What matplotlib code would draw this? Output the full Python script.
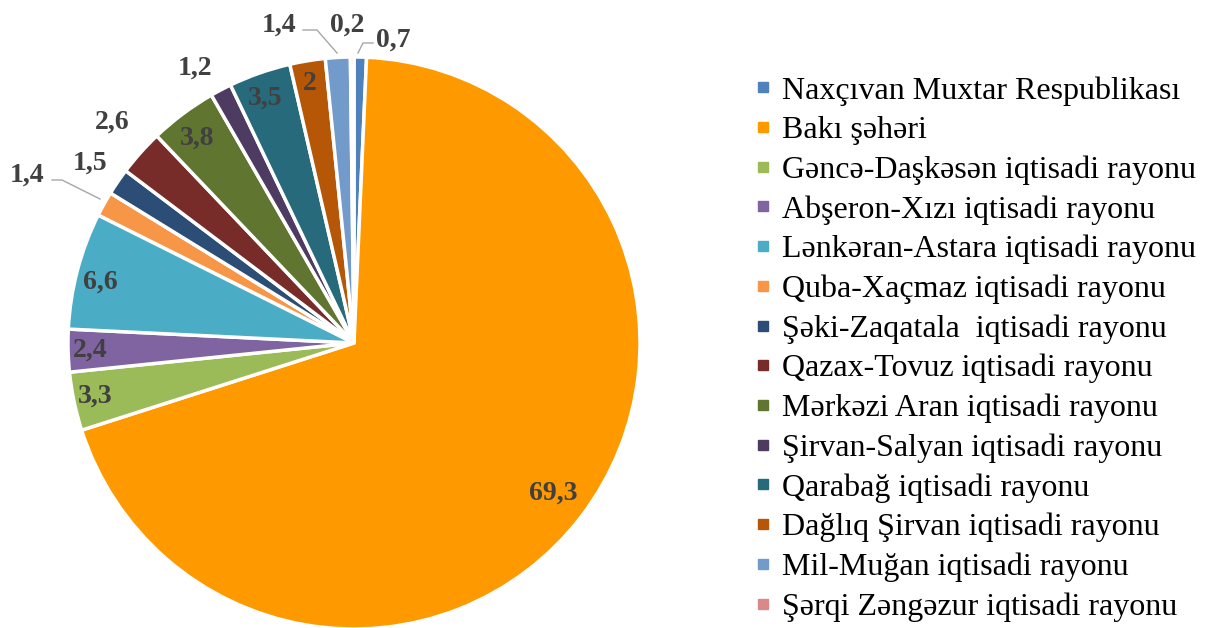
import matplotlib.pyplot as plt
from matplotlib.lines import Line2D

regions = ['Naxçıvan Muxtar Respublikası', 'Bakı şəhəri', 'Gəncə-Daşkəsən iqtisadi rayonu',
           'Abşeron-Xızı iqtisadi rayonu', 'Lənkəran-Astara iqtisadi rayonu',
           'Quba-Xaçmaz iqtisadi rayonu', 'Şəki-Zaqatala  iqtisadi rayonu',
           'Qazax-Tovuz iqtisadi rayonu', 'Mərkəzi Aran iqtisadi rayonu',
           'Şirvan-Salyan iqtisadi rayonu', 'Qarabağ iqtisadi rayonu',
           'Dağlıq Şirvan iqtisadi rayonu', 'Mil-Muğan iqtisadi rayonu',
           'Şərqi Zəngəzur iqtisadi rayonu']
values = [0.7, 69.3, 3.3, 2.4, 6.6, 1.4, 1.5, 2.6, 3.8, 1.2, 3.5, 2, 1.4, 0.2]
value_labels = ['0,7', '69,3', '3,3', '2,4', '6,6', '1,4', '1,5', '2,6', '3,8', '1,2', '3,5', '2', '1,4', '0,2']

colors = ['#4F81BD', '#FF9900', '#9BBB59', '#8064A2', '#4BACC6', '#F79646', '#2C4D75',
          '#772C2A', '#5F7530', '#4D3B62', '#276A7C', '#B65708', '#729ACA', '#D98A88']

# label positions in pixels (layout only)
label_px = [(393, 40), (553, 493), (95, 396), (90, 350), (100, 282), (27, 175), (90, 163),
            (112, 122), (197, 138), (195, 68), (265, 98), (310, 83), (279, 25), (347, 25)]
# leader lines in pixels
leaders = {0: [(358, 53), (363, 43), (373, 43)],
           5: [(52, 180), (62, 180), (100, 199)],
           12: [(303, 30), (317, 30), (337, 53)]}

W, H = 1212, 628
cx, cy, R = 354, 343, 286

def to_data(p):
    return ((p[0] - cx) / R, (cy - p[1]) / R)

plt.rcParams['font.family'] = ['Liberation Serif', 'DejaVu Serif']
fig = plt.figure(figsize=(W / 100, H / 100), dpi=100)
ax = fig.add_axes([(cx - R) / W, (H - cy - R) / H, 2 * R / W, 2 * R / H])
ax.pie(values, colors=colors, startangle=90, counterclock=False, radius=1,
       wedgeprops=dict(edgecolor='white', linewidth=2.5))
ax.set_xlim(-1, 1)
ax.set_ylim(-1, 1)
ax.set_aspect('equal')
ax.axis('off')

for i, lab in enumerate(value_labels):
    x, y = to_data(label_px[i])
    ax.text(x, y, lab, ha='center', va='center', fontsize=20, fontweight='bold',
            color='#404040', clip_on=False)
for i, pts in leaders.items():
    d = [to_data(p) for p in pts]
    ax.plot([p[0] for p in d], [p[1] for p in d], color='#A6A6A6', lw=1, clip_on=False)

handles = [Line2D([], [], marker='s', ls='', markersize=7, color=c) for c in colors]
fig.legend(handles, regions, loc='upper left', bbox_to_anchor=(755 / W, 1 - 76 / H),
           frameon=False, fontsize=23, handlelength=0.5, handletextpad=0.35,
           labelspacing=0.32, borderpad=0, borderaxespad=0)

fig.savefig('out.png', dpi=100)
